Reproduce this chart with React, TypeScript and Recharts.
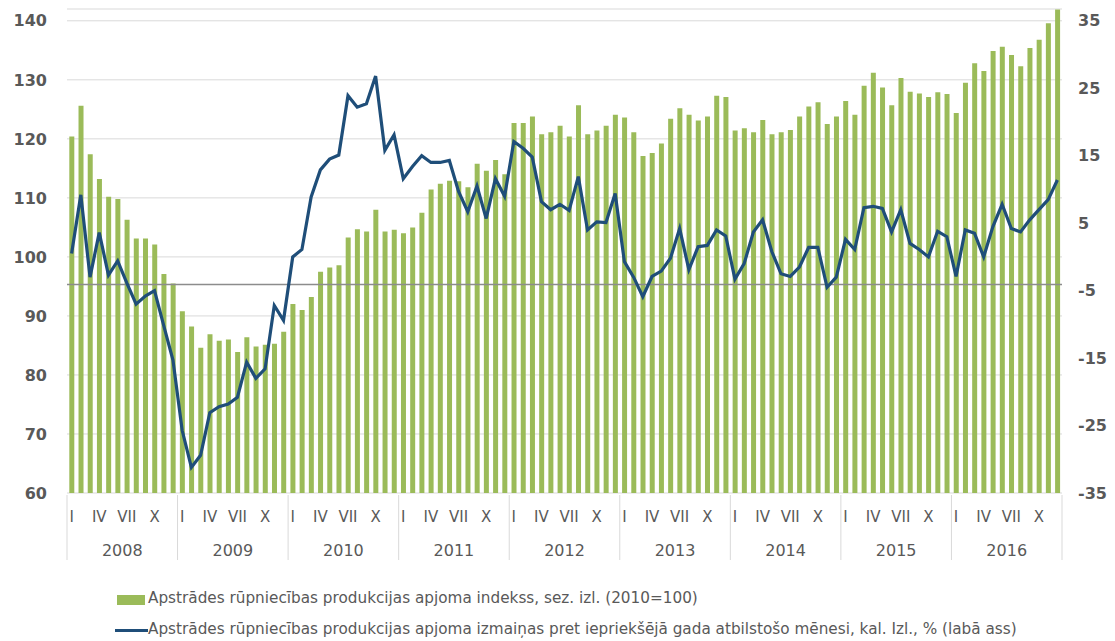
import React from 'react';
import { Bar, CartesianGrid, ComposedChart, Line, ReferenceLine, XAxis, YAxis } from 'recharts';

const YEARS = ['2008', '2009', '2010', '2011', '2012', '2013', '2014', '2015', '2016'];
const MONTH_LABELS = ['I', '', '', 'IV', '', '', 'VII', '', '', 'X', '', ''];

// apjoma indekss, sez. izl. (2010=100)
const INDEX_VALUES = [
  120.4, 125.6, 117.4, 113.2, 110.2, 109.8, 106.3, 103.1, 103.1, 102.1, 97.1, 95.5,
  90.8, 88.2, 84.6, 86.9, 85.8, 86.0, 83.9, 86.4, 84.8, 85.1, 85.3, 87.3,
  92.0, 91.0, 93.2, 97.5, 98.2, 98.6, 103.3, 104.7, 104.3, 108.0, 104.3, 104.6,
  104.0, 105.0, 107.5, 111.4, 112.4, 112.9, 112.8, 111.8, 115.8, 114.6, 116.4, 114.0,
  122.7, 122.7, 123.8, 120.8, 121.1, 122.2, 120.4, 125.7, 120.8, 121.4, 122.2, 124.1,
  123.6, 121.1, 117.1, 117.6, 119.2, 123.4, 125.2, 124.1, 123.1, 123.8, 127.3, 127.1,
  121.4, 121.8, 121.1, 123.2, 120.8, 121.1, 121.5, 123.8, 125.5, 126.2, 122.5, 123.8,
  126.4, 124.1, 129.0, 131.2, 128.7, 125.7, 130.3, 128.0, 127.7, 127.1, 127.9, 127.6,
  124.4, 129.5, 132.8, 131.5, 134.9, 135.6, 134.2, 132.3, 135.4, 136.8, 139.6, 141.9
];

// izmaiņas pret iepriekšējā gada atbilstošo mēnesi, %
const CHANGE_VALUES = [
  0.5, 9.2, -3.0, 3.6, -2.7, -0.6, -3.9, -7.0, -5.8, -5.0, -10.2, -15.3,
  -25.7, -31.2, -29.4, -23.1, -22.2, -21.8, -20.8, -15.6, -18.0, -16.6, -7.2, -9.4,
  0.0, 1.1, 8.9, 12.9, 14.5, 15.1, 23.9, 22.2, 22.7, 26.8, 15.8, 18.1,
  11.6, 13.4, 15.0, 14.0, 14.0, 14.3, 9.7, 6.7, 10.5, 5.7, 11.6, 9.0,
  17.1, 16.1, 14.8, 8.2, 7.0, 7.8, 6.9, 11.9, 4.0, 5.2, 5.1, 9.4,
  -0.7, -3.0, -5.9, -2.9, -2.1, -0.2, 4.2, -1.9, 1.5, 1.7, 4.0, 3.1,
  -3.3, -1.0, 3.7, 5.5, 0.8, -2.5, -2.9, -1.5, 1.4, 1.4, -4.5, -3.0,
  2.6, 1.1, 7.3, 7.5, 7.2, 3.7, 7.0, 2.0, 1.1, 0.0, 3.8, 3.0,
  -2.9, 4.0, 3.5, 0.0, 4.5, 7.8, 4.2, 3.7, 5.5, 7.0, 8.5, 11.4
];

const LEFT_TICKS = [60, 70, 80, 90, 100, 110, 120, 130, 140];
const RIGHT_TICKS = [-35, -25, -15, -5, 5, 15, 25, 35];

const data = INDEX_VALUES.map((v, i) => ({
  period: `${YEARS[Math.floor(i / 12)]}-${(i % 12) + 1}`,
  index: v,
  change: CHANGE_VALUES[i]
}));

const FONT = '"DejaVu Sans", sans-serif';
const TEXT = '#595959';
const GREEN = '#9BBB59';
const BLUE = '#1F4E79';
const BAND = 995 / 108;

const MonthTick = (props: any) => {
  const { x, y, index } = props;
  const m = index % 12;
  const label = MONTH_LABELS[m];
  return (
    <g>
      {label && (
        <text x={x} y={y + 29} textAnchor="middle" fill={TEXT} fontSize={15} fontFamily={FONT}>
          {label}
        </text>
      )}
      {m === 0 && (
        <line x1={x - BAND / 2} x2={x - BAND / 2} y1={y + 2} y2={y + 67} stroke="#d9d9d9" />
      )}
      {index === data.length - 1 && (
        <line x1={x + BAND / 2} x2={x + BAND / 2} y1={y + 2} y2={y + 67} stroke="#d9d9d9" />
      )}
      {m === 5 && (
        <text x={x + BAND / 2} y={y + 63} textAnchor="middle" fill={TEXT} fontSize={16} fontFamily={FONT}>
          {YEARS[Math.floor(index / 12)]}
        </text>
      )}
    </g>
  );
};

const legendText: React.CSSProperties = {
  position: 'absolute',
  fontFamily: FONT,
  fontSize: 15.25,
  color: TEXT,
  whiteSpace: 'nowrap'
};

export default function App() {
  return (
    <div style={{ position: 'absolute', left: 0, top: 0, width: 1115, height: 641, background: '#fff' }}>
      <ComposedChart
        width={1115}
        height={570}
        data={data}
        margin={{ top: 9, right: 0, bottom: 0, left: 0 }}
        barCategoryGap="25%"
      >
        <CartesianGrid yAxisId="left" vertical={false} stroke="#d9d9d9" />
        <XAxis
          dataKey="period"
          interval={0}
          height={77}
          axisLine={false}
          tickLine={false}
          tickSize={0}
          tickMargin={0}
          tick={<MonthTick />}
        />
        <YAxis
          yAxisId="left"
          width={67}
          domain={[60, 142]}
          ticks={LEFT_TICKS}
          axisLine={false}
          tickLine={false}
          tickMargin={14}
          tick={{ fill: TEXT, fontSize: 16, fontWeight: 'bold', fontFamily: FONT }}
        />
        <YAxis
          yAxisId="right"
          orientation="right"
          width={53}
          domain={[-35, 36.75]}
          ticks={RIGHT_TICKS}
          axisLine={false}
          tickLine={false}
          tickMargin={10}
          tick={{ fill: TEXT, fontSize: 16, fontWeight: 'bold', fontFamily: FONT }}
        />
        <Bar yAxisId="left" dataKey="index" fill={GREEN} isAnimationActive={false} />
        <ReferenceLine yAxisId="right" y={-4.1} stroke="#8c8c8c" strokeWidth={1.5} />
        <Line
          yAxisId="right"
          dataKey="change"
          type="linear"
          stroke={BLUE}
          strokeWidth={3.2}
          dot={false}
          activeDot={false}
          isAnimationActive={false}
        />
      </ComposedChart>
      <div style={{ position: 'absolute', left: 117, top: 595, width: 28, height: 10, background: GREEN }} />
      <div style={{ ...legendText, left: 148, top: 589 }}>
        Apstrādes rūpniecības produkcijas apjoma indekss, sez. izl. (2010=100)
      </div>
      <div style={{ position: 'absolute', left: 115, top: 629, width: 33, height: 3, background: BLUE }} />
      <div style={{ ...legendText, left: 148, top: 620 }}>
        Apstrādes rūpniecības produkcijas apjoma izmaiņas pret iepriekšējā gada atbilstošo mēnesi, kal. Izl., % (labā ass)
      </div>
    </div>
  );
}
